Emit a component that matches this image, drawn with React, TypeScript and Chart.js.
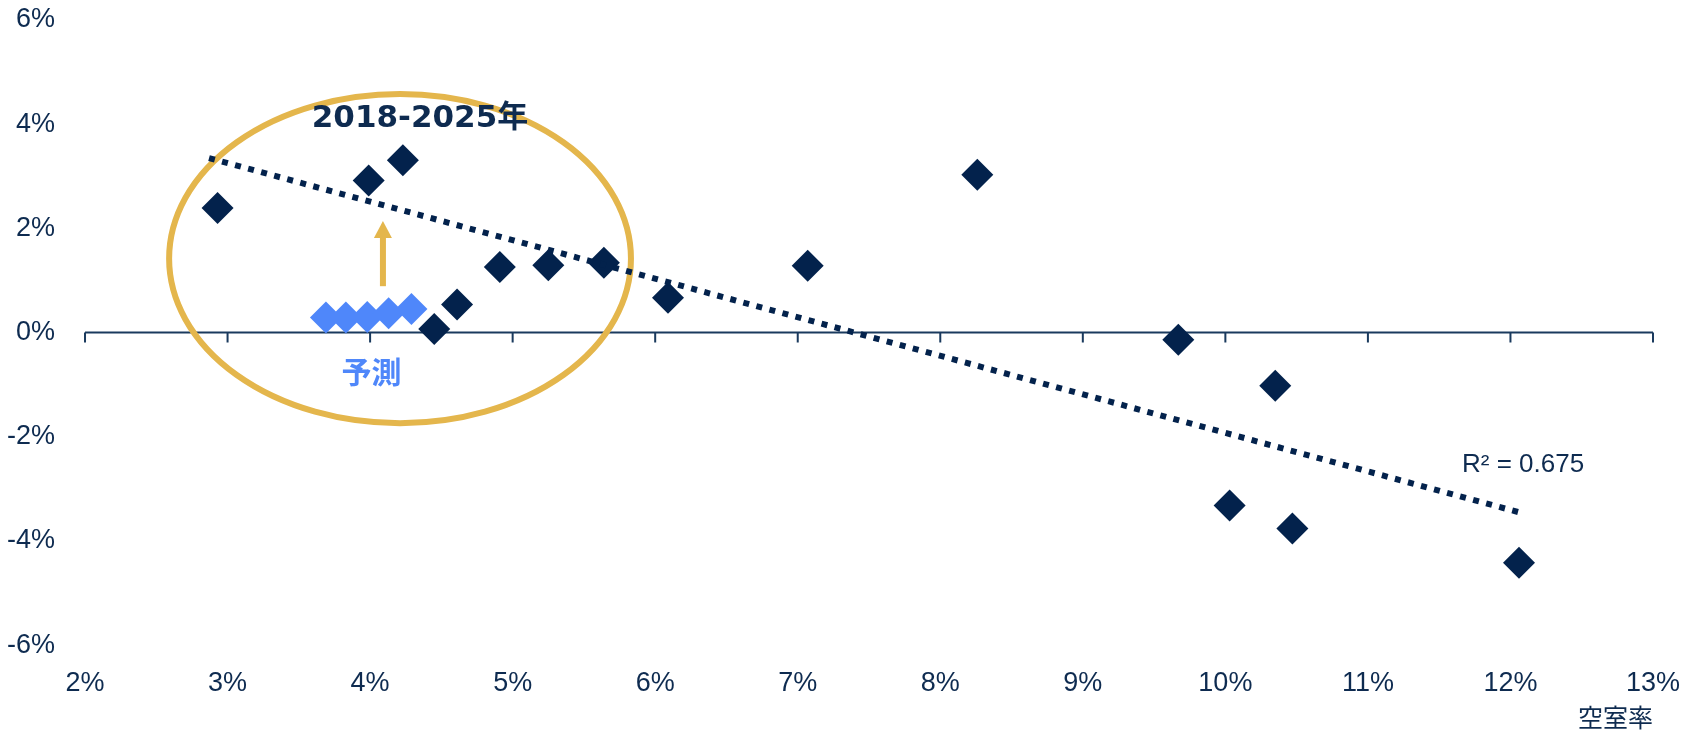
import React, { useEffect, useRef } from 'react';
import { Chart, registerables } from 'chart.js';

Chart.register(...registerables);

// ---- data ----
const vacancyRate = [2.93, 3.99, 4.23, 4.45, 4.61, 4.91, 5.25, 5.64, 6.09, 7.07, 8.26, 9.67, 10.35, 10.03, 10.47, 12.06];
const rentGrowth = [2.39, 2.92, 3.31, 0.07, 0.54, 1.26, 1.29, 1.34, 0.67, 1.28, 3.03, -0.14, -1.02, -3.32, -3.76, -4.42];
const forecastVacancy = [3.69, 3.83, 3.98, 4.13, 4.29];
const forecastGrowth = [0.29, 0.29, 0.3, 0.37, 0.45];
const trendX = [2.87, 12.1];
const trendY = [3.35, -3.48];

const xMin = 2;
const xMax = 13;
const yMin = -6;
const yMax = 6;
const xAxisTitle = '空室率';

// annotation anchors (data units)
const periodLabel = '2018-2025年';
const periodLabelAt = [4.35, 4.11];
const forecastLabel = '予測';
const forecastLabelAt = [4.01, -0.75];
const r2Label = 'R² = 0.675';
const r2LabelAt = [11.66, -2.54];
const ellipseCenter = [4.21, 1.42];
const ellipseRadii = [1.62, 3.16];
const arrowX = 4.09;
const arrowFromTo = [0.89, 2.14];

const NAVY = '#03224C';
const TEXT = '#0E2B50';
const AXIS = '#1A3A5E';
const BLUE = '#4F87FA';
const GOLD = '#E4B64C';
const FONT = "'Liberation Sans', Arial, sans-serif";
const CJK = "'Noto Sans CJK JP', sans-serif";

const overlayPlugin = {
  id: 'overlay',
  beforeDatasetsDraw(chart: any) {
    const { ctx, chartArea, scales } = chart;
    const xs = scales.x;
    const ys = scales.y;
    const y0 = ys.getPixelForValue(0);
    ctx.save();
    // zero axis line with ticks
    ctx.strokeStyle = AXIS;
    ctx.lineWidth = 2;
    ctx.beginPath();
    ctx.moveTo(chartArea.left, y0);
    ctx.lineTo(chartArea.right, y0);
    for (let v = xMin; v <= xMax; v++) {
      const px = xs.getPixelForValue(v);
      ctx.moveTo(px, y0);
      ctx.lineTo(px, y0 + 10);
    }
    ctx.stroke();
    // ellipse
    const cx = xs.getPixelForValue(ellipseCenter[0]);
    const cy = ys.getPixelForValue(ellipseCenter[1]);
    const rx = Math.abs(xs.getPixelForValue(ellipseCenter[0] + ellipseRadii[0]) - cx);
    const ry = Math.abs(ys.getPixelForValue(ellipseCenter[1] + ellipseRadii[1]) - cy);
    ctx.strokeStyle = GOLD;
    ctx.lineWidth = 6;
    ctx.beginPath();
    ctx.ellipse(cx, cy, rx, ry, 0, 0, Math.PI * 2);
    ctx.stroke();
    ctx.restore();
  },
  afterDatasetsDraw(chart: any) {
    const { ctx, scales } = chart;
    const xs = scales.x;
    const ys = scales.y;
    ctx.save();
    // arrow
    const ax = xs.getPixelForValue(arrowX);
    const ay0 = ys.getPixelForValue(arrowFromTo[0]);
    const ay1 = ys.getPixelForValue(arrowFromTo[1]);
    ctx.fillStyle = GOLD;
    ctx.fillRect(ax - 3, ay1 + 16, 6, ay0 - ay1 - 16);
    ctx.beginPath();
    ctx.moveTo(ax, ay1);
    ctx.lineTo(ax + 9, ay1 + 17);
    ctx.lineTo(ax - 9, ay1 + 17);
    ctx.closePath();
    ctx.fill();
    // texts
    ctx.textBaseline = 'middle';
    ctx.textAlign = 'center';
    ctx.fillStyle = TEXT;
    ctx.font = "bold 31px 'DejaVu Sans', " + CJK;
    ctx.fillText(periodLabel, xs.getPixelForValue(periodLabelAt[0]), ys.getPixelForValue(periodLabelAt[1]));
    ctx.fillStyle = BLUE;
    ctx.font = 'bold 30px ' + CJK;
    ctx.fillText(forecastLabel, xs.getPixelForValue(forecastLabelAt[0]), ys.getPixelForValue(forecastLabelAt[1]));
    ctx.fillStyle = TEXT;
    ctx.textAlign = 'left';
    ctx.font = '26px ' + FONT;
    ctx.fillText(r2Label, xs.getPixelForValue(r2LabelAt[0]), ys.getPixelForValue(r2LabelAt[1]));
    ctx.restore();
  },
};

export default function App() {
  const canvasRef = useRef<HTMLCanvasElement | null>(null);

  useEffect(() => {
    if (!canvasRef.current) return;
    const chart = new Chart(canvasRef.current, {
      type: 'scatter',
      data: {
        datasets: [
          {
            type: 'line',
            label: 'trend',
            data: trendX.map((x, i) => ({ x, y: trendY[i] })),
            borderColor: NAVY,
            borderWidth: 6,
            borderDash: [6, 7.5],
            borderCapStyle: 'butt',
            pointRadius: 0,
            fill: false,
          } as any,
          {
            label: '予測',
            data: forecastVacancy.map((x, i) => ({ x, y: forecastGrowth[i] })),
            pointStyle: 'rectRot',
            pointRadius: 16,
            pointHoverRadius: 16,
            backgroundColor: BLUE,
            borderColor: BLUE,
            borderWidth: 0,
          },
          {
            label: '実績',
            data: vacancyRate.map((x, i) => ({ x, y: rentGrowth[i] })),
            pointStyle: 'rectRot',
            pointRadius: 16,
            pointHoverRadius: 16,
            backgroundColor: NAVY,
            borderColor: NAVY,
            borderWidth: 0,
          },
        ],
      },
      options: {
        animation: false,
        responsive: true,
        maintainAspectRatio: false,
        layout: { padding: { left: 7, right: 31, top: 20, bottom: 0 } },
        plugins: {
          legend: { display: false },
          tooltip: { enabled: false },
          title: { display: false },
        },
        scales: {
          x: {
            type: 'linear',
            min: xMin,
            max: xMax,
            grid: { display: false, drawTicks: true, tickLength: 22 },
            border: { display: false },
            ticks: {
              stepSize: 1,
              padding: 0,
              color: TEXT,
              font: { family: FONT, size: 27 },
              callback: (v: any) => v + '%',
            },
            title: {
              display: true,
              text: xAxisTitle,
              align: 'end',
              color: TEXT,
              font: { family: CJK, size: 25, lineHeight: 1.1 },
              padding: { top: 4, bottom: 0 },
            },
          },
          y: {
            type: 'linear',
            min: yMin,
            max: yMax,
            grid: { display: false, drawTicks: true, tickLength: 30 },
            border: { display: false },
            ticks: {
              stepSize: 2,
              padding: 0,
              color: TEXT,
              font: { family: FONT, size: 27 },
              callback: (v: any) => v + '%',
            },
          },
        },
      },
      plugins: [overlayPlugin],
    } as any);
    return () => chart.destroy();
  }, []);

  return (
    <div style={{ position: 'absolute', left: 0, top: 0, width: 1684, height: 731, background: '#fff' }}>
      <canvas ref={canvasRef} />
    </div>
  );
}
